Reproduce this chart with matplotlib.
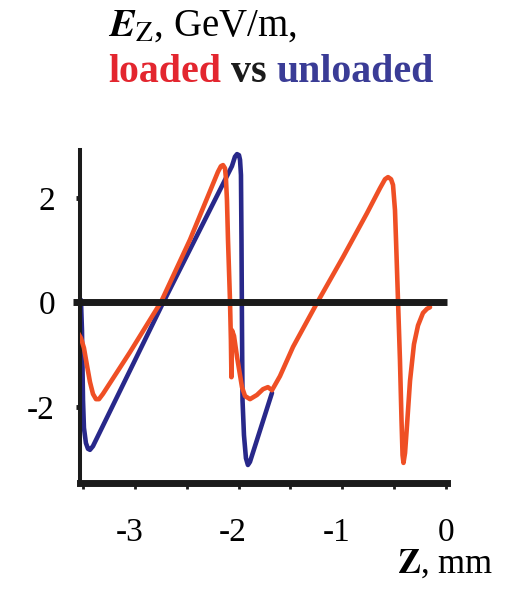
import matplotlib
matplotlib.use("Agg")
import matplotlib.pyplot as plt
from matplotlib.transforms import ScaledTranslation

plt.rcParams['font.family'] = ['Liberation Serif', 'DejaVu Serif']
plt.rcParams['mathtext.fontset'] = 'stix'
plt.rcParams['axes.unicode_minus'] = False

# unloaded (blue) field, Z in mm, Ez in GeV/m
z_unloaded = [-3.520, -3.510, -3.500, -3.491, -3.472, -3.452, -3.433, -3.404,
              -2.739, -2.064, -2.035, -2.015, -1.996, -1.986, -1.977, -1.972,
              -1.967, -1.962, -1.948, -1.929, -1.910, -1.890, -1.678]
ez_unloaded = [0.05, -0.53, -1.87, -2.40, -2.69, -2.80, -2.82, -2.75,
               -0.05, 2.61, 2.79, 2.84, 2.82, 2.73, 2.44, 1.20,
               -0.53, -1.87, -2.54, -2.98, -3.11, -3.05, -1.73]

# loaded (red) field
z_loaded = [-3.549, -3.520, -3.491, -3.462, -3.433, -3.404, -3.375, -3.346,
            -3.308, -3.047, -2.748, -2.469, -2.199, -2.170, -2.150, -2.131,
            -2.122, -2.112, -2.102, -2.083, -2.074, -2.069, -2.064, -2.044,
            -2.015, -1.967, -1.938, -1.890, -1.823, -1.765, -1.717, -1.678,
            -1.601, -1.475, -1.244, -0.993, -0.762, -0.636, -0.588, -0.559,
            -0.530, -0.511, -0.492, -0.482, -0.463, -0.444, -0.429, -0.419,
            -0.410, -0.395, -0.376, -0.347, -0.309, -0.270, -0.222, -0.183,
            -0.154]
ez_loaded = [-0.58, -0.68, -0.87, -1.20, -1.52, -1.75, -1.85, -1.85,
             -1.75, -0.95, 0.01, 1.20, 2.50, 2.61, 2.63, 2.57,
             2.38, 1.96, 1.20, 0.05, -0.72, -1.43, -0.53, -0.64,
             -1.04, -1.62, -1.79, -1.85, -1.77, -1.66, -1.62, -1.68,
             -1.41, -0.85, -0.01, 0.87, 1.71, 2.19, 2.36, 2.40,
             2.36, 2.25, 1.77, 1.20, 0.05, -1.10, -2.25, -2.92,
             -3.07, -2.88, -2.35, -1.50, -0.80, -0.44, -0.20, -0.12,
             -0.09]

x_ticks = [-3.5, -3, -2.5, -2, -1.5, -1, -0.5, 0]
x_labels = ['', '-3', '', '-2', '', '-1', '', '0']
y_ticks = [2, 0, -2]
y_labels = ['2', '0', '-2']

red = '#EF4F25'
navy = '#28288A'
ink = '#1b1b1b'

fig = plt.figure(figsize=(5.06, 5.95), dpi=100)
ax = fig.add_axes([80 / 506, 112 / 595, 367 / 506, 333 / 595])

ax.plot(z_unloaded, ez_unloaded, color=navy, lw=3.3, solid_joinstyle='round',
        solid_capstyle='round', zorder=2)
ax.plot(z_loaded, ez_loaded, color=red, lw=3.3, solid_joinstyle='round',
        solid_capstyle='round', zorder=3)
ax.axhline(0, xmin=-0.019, xmax=1.0, color=ink, lw=5, clip_on=False,
           solid_capstyle='butt', zorder=4)

ax.set_xlim(-3.529, 0.0096)
ax.set_ylim(-3.455, 2.919)

for s in ('top', 'right'):
    ax.spines[s].set_visible(False)
ax.spines['left'].set_linewidth(2.9)
ax.spines['left'].set_color(ink)
ax.spines['bottom'].set_linewidth(5)
ax.spines['bottom'].set_color(ink)

ax.set_xticks(x_ticks)
ax.set_xticklabels(x_labels)
ax.set_yticks(y_ticks)
ax.set_yticklabels(y_labels)
ax.tick_params(axis='x', direction='out', length=4, width=2, pad=21,
               labelsize=24, color=ink)
ax.tick_params(axis='y', direction='out', length=3, width=3.5, pad=15,
               labelsize=24, color=ink)

# centre the digit, not the hyphen, under the tick
shift = ScaledTranslation(-0.055, 0, fig.dpi_scale_trans)
for lab in ax.get_xticklabels():
    if lab.get_text().startswith('-'):
        lab.set_transform(lab.get_transform() + shift)

fig.text(493 / 506, 1 - 573 / 595, r'$\mathbf{Z}$, mm', fontsize=25,
         ha='right', va='baseline')

fig.text(108 / 506, 1 - 36 / 595, r'$\mathbfit{E}_{\mathrm{Z}}$, GeV/m,',
         fontsize=28, va='baseline')
t1 = fig.text(108 / 506, 1 - 82 / 595, 'loaded', fontsize=28.7, fontweight='bold',
              color='#E3262F', va='baseline')
t2 = ax.annotate(' vs ', xy=(1, 0), xycoords=t1, va='bottom', fontsize=28.7,
                 fontweight='bold', color=ink, annotation_clip=False)
ax.annotate('unloaded', xy=(1, 0), xycoords=t2, va='bottom', fontsize=28.7,
            fontweight='bold', color='#3A3C96', annotation_clip=False)

fig.savefig('out.png', dpi=100)
